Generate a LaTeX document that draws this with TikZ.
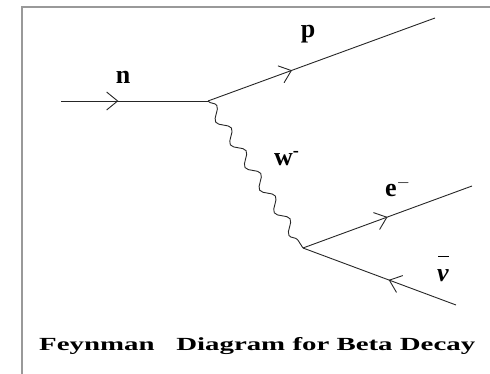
\documentclass[tikz,border=0pt]{standalone}
\usepackage{fontspec}
\setmainfont{Liberation Serif}
\usetikzlibrary{arrows.meta,decorations.pathmorphing,decorations.markings}

\begin{document}
\begin{tikzpicture}[
  x=1pt, y=-1pt,
  every node/.style={font=\fontsize{26}{28}\selectfont\bfseries, inner sep=0pt},
  fermion/.style={draw=black!85, line width=0.9pt, postaction={decorate},
    decoration={markings, mark=at position #1 with {\arrow{Straight Barb[length=11pt,width=18pt]}}}},
  boson/.style={draw=black!85, line width=0.9pt, decorate,
    decoration={snake, segment length=27pt, amplitude=5pt}},
  frame/.style={draw=black!40, line width=1.6pt},
  caption/.style={font=\fontsize{18.5}{20}\selectfont\bfseries, anchor=base west}
]
\useasboundingbox (0,0) rectangle (490,374);
\draw[frame] (22,374) -- (22,7) -- (490,7);

% vertices and free ends
\coordinate (v1)   at (208,101);
\coordinate (v2)   at (303,248);
\coordinate (nin)  at (61,101);
\coordinate (pout) at (435,18);
\coordinate (eout) at (472,186);
\coordinate (nuin) at (456,305);

\draw[fermion=0.39] (nin)  -- (v1);
\draw[fermion=0.37] (v1)   -- (pout);
\draw[boson]        (v1)   -- (v2);
\draw[fermion=0.50] (v2)   -- (eout);
\draw[fermion=0.44] (nuin) -- (v2);

% labels
\node (nlbl)  at (123,77)  {n};
\node (plbl)  at (308,34)  {p};
\node[anchor=base west] (wlbl) at (274,166) {w\textsuperscript{-}};
\node[anchor=base west] (elbl) at (385,197) {e$^{-}$};
\node[anchor=base] (nulbl) at (443,281)
  {\vbox{\moveright1pt\vbox{\hrule width 11pt height 1.4pt}\kern-4pt\hbox{\itshape ν}}};

\node[caption] (title) at (39,350) {\scalebox{1.56}[1]{Feynman\ \ \ Diagram for Beta Decay}};
\end{tikzpicture}
\end{document}
